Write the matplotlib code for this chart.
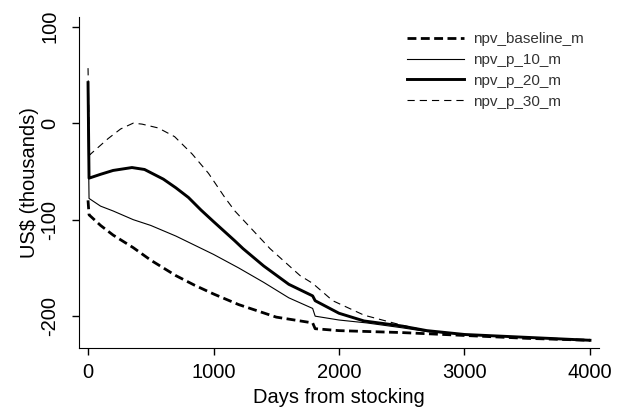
import numpy as np
import matplotlib
matplotlib.use('Agg')
import matplotlib.pyplot as plt

plt.rcParams['font.family'] = ['Liberation Sans', 'DejaVu Sans']
plt.rcParams['axes.unicode_minus'] = False

# NPV curves (US$ thousands vs days from stocking)
days_base = [0, 8, 100, 200, 360, 500, 700, 850, 1000, 1200, 1500, 1790, 1810,
             2000, 2500, 3000, 3500, 4000]
npv_baseline = [-80, -95, -106, -116, -129, -142, -158, -168, -177, -188, -201,
                -207, -213, -215, -217, -220, -223, -225]

days_p10 = [0, 8, 100, 200, 360, 500, 700, 1000, 1200, 1400, 1600, 1790, 1810,
            2000, 2220, 2500, 2700, 3000, 3500, 4000]
npv_p10 = [5, -78, -86, -91, -100, -106, -117, -136, -150, -165, -181, -192,
           -200, -204, -207, -212, -216, -219, -222, -225]

days_p20 = [0, 8, 100, 200, 350, 450, 600, 700, 800, 900, 1000, 1170, 1235,
            1400, 1600, 1790, 1810, 2000, 2200, 2490, 2700, 3000, 3500, 4000]
npv_p20 = [42, -57, -53, -49, -46, -48, -58, -67, -77, -90, -102, -122, -130,
           -148, -167, -179, -184, -197, -205, -210, -215, -219, -222, -225]

days_p30 = [0, 12, 160, 260, 360, 430, 560, 690, 830, 960, 1090, 1170, 1450,
            1690, 1790, 1950, 2200, 2490, 2700, 3000, 3500, 4000]
npv_p30 = [57, -33, -16, -6, 0, -1, -5, -14, -32, -52, -77, -91, -130,
           -158, -166, -184, -199, -209, -215, -219, -222, -225]

fig = plt.figure(figsize=(6.24, 4.08), dpi=100)
ax = fig.add_axes([79/624, 1 - 348/408, 520/624, 331/408])

ax.plot(days_base, npv_baseline, color='black', lw=2.0,
        linestyle=(0, (3.2, 1.6)), label='npv_baseline_m')
ax.plot(days_p10, npv_p10, color='black', lw=0.8, label='npv_p_10_m')
ax.plot(days_p20, npv_p20, color='black', lw=2.1, label='npv_p_20_m')
ax.plot(days_p30, npv_p30, color='black', lw=0.8,
        linestyle=(0, (6.5, 4.5)), label='npv_p_30_m')

ax.set_xlim(-72, 4072)
ax.set_ylim(-233, 110)
ax.set_xticks([0, 1000, 2000, 3000, 4000])
ax.set_yticks([-200, -100, 0, 100])
ax.spines['top'].set_visible(False)
ax.spines['right'].set_visible(False)
ax.tick_params(direction='out', length=5, width=1, labelsize=14.5)
ax.tick_params(axis='x', pad=6)
ax.tick_params(axis='y', pad=9)
for lab in ax.get_yticklabels():
    lab.set_rotation(90)
    lab.set_va('center')
ax.set_xlabel('Days from stocking', fontsize=14.5, labelpad=4)
ax.set_ylabel('US$ (thousands)', fontsize=14.5, labelpad=1)

leg = ax.legend(loc='upper left', bbox_to_anchor=(407/624, 1 - 32/408),
                bbox_transform=fig.transFigure, frameon=False, fontsize=11,
                handlelength=3.7, handletextpad=0.6, labelspacing=0.45,
                borderpad=0, borderaxespad=0)
for t in leg.get_texts():
    t.set_color('#333333')

fig.savefig('out.png', dpi=100)
